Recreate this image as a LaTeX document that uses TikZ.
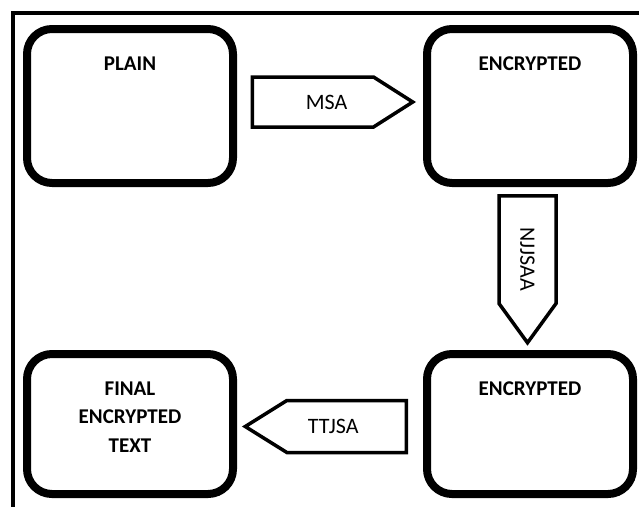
\documentclass[tikz,border=0pt]{standalone}
\usepackage{fontspec}
\setmainfont{Carlito}
\usetikzlibrary{shapes.arrows}
\tikzset{
  stage/.style={draw, line width=8pt, rounded corners=25pt, inner sep=0pt,
    minimum width=206pt, minimum height=#1},
  stagetxt/.style={anchor=north, yshift=-28pt, align=center,
    font=\fontsize{21}{28.7}\selectfont\bfseries},
  algo/.style={draw, line width=3.5pt, single arrow, single arrow head extend=0pt,
    inner sep=0pt, anchor=tail},
  algotxt/.style={font=\fontsize{22}{26}\selectfont}
}
\begin{document}
\begin{tikzpicture}[x=1pt, y=-1pt, line join=miter]
				\useasboundingbox (0,0) rectangle (639,506);
				% frame
				\draw[line width=3.5pt] (13,512) -- (13,13) -- (645,13);
				% boxes
				\node[stage=154pt, label={[stagetxt]north:PLAIN}] (plain) at (130,106) {};
				\node[stage=154pt, label={[stagetxt]north:ENCRYPTED}] (enc) at (530,106) {};
				\node[stage=140pt, label={[stagetxt]north:ENCRYPTED}] (enctwo) at (530,424) {};
				\node[stage=140pt, label={[stagetxt]north:FINAL\\ENCRYPTED\\TEXT}] (final) at (130,424) {};
				% algorithms
				\node[algo, minimum height=160.5pt, minimum width=50pt, single arrow tip angle=65] (msa) at (250.5,102) {};
				\node[algo, shape border rotate=270, minimum height=147pt, minimum width=57pt, single arrow tip angle=72] (njjsaa) at (527.5,194) {};
				\node[algo, shape border rotate=180, minimum height=161pt, minimum width=52pt, single arrow tip angle=64] (ttjsa) at (408,426.5) {};
				\path (msa.tail) -- (msa.tip) node[algotxt, pos=0.46] {MSA};
				\path (njjsaa.tail) -- (njjsaa.tip) node[algotxt, pos=0.45, rotate=-90, xshift=-3pt] {NJJSAA};
				\path (ttjsa.tail) -- (ttjsa.tip) node[algotxt, pos=0.45] {TTJSA};
			\end{tikzpicture}
\end{document}
